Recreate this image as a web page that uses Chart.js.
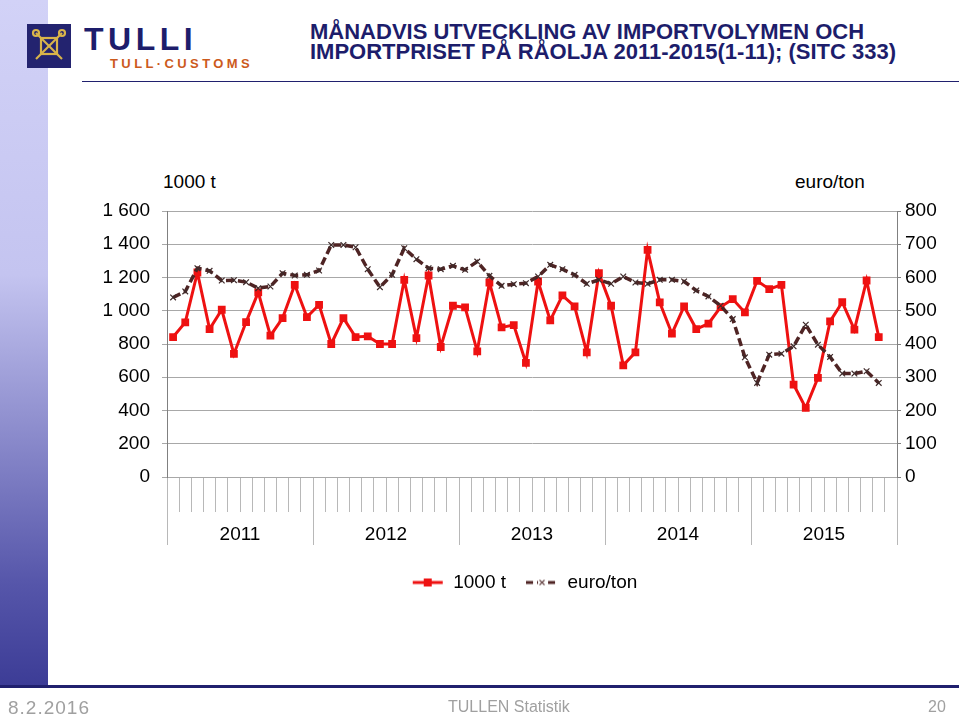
<!DOCTYPE html>
<html>
<head>
<meta charset="utf-8">
<script src="https://cdn.jsdelivr.net/npm/chart.js@4.4.0/dist/chart.umd.min.js"></script>
<style>
body{margin:0;width:959px;height:714px;position:relative;overflow:hidden;background:#fff;font-family:"Liberation Sans",Arial,sans-serif}
#band{position:absolute;left:0;top:0;width:48px;height:686px;background:linear-gradient(#d2d2f7,#c4c4f0 40%,#5656aa 85%,#3c3c96)}
#rule{position:absolute;left:0;top:685px;width:959px;height:3px;background:#20206e}
#hline{position:absolute;left:82px;top:81px;width:877px;height:1px;background:#20206e}
#logo{position:absolute;left:27px;top:24px;width:44px;height:44px;background:#23236f}
#tulli{position:absolute;left:84px;top:21px;font-weight:bold;font-size:32px;letter-spacing:4.5px;color:#1d1d6b}
#customs{position:absolute;left:110px;top:56px;font-weight:bold;font-size:13px;letter-spacing:3.4px;color:#cc5a1c}
#title{position:absolute;left:310px;top:22px;font-weight:bold;font-size:22px;line-height:20px;color:#1d1d6b}
.unit{position:absolute;top:171px;font-size:19px;color:#000}
.foot{position:absolute;top:698px;font-size:16px;color:#a0a0a0}
#wrap{position:absolute;left:0;top:0;width:959px;height:714px}
</style>
</head>
<body>
<div id="band"></div>
<div id="rule"></div>
<div id="hline"></div>
<div id="logo">
<svg width="44" height="44" viewBox="0 0 44 44">
<g stroke="#d9b44a" stroke-width="2.2" fill="none">
<line x1="9" y1="9" x2="35" y2="35"/><line x1="35" y1="9" x2="9" y2="35"/>
<rect x="14" y="14" width="16" height="16"/>
<circle cx="9" cy="9" r="3"/><circle cx="35" cy="9" r="3"/>
</g>
</svg>
</div>
<div id="tulli">TULLI</div>
<div id="customs">TULL·CUSTOMS</div>
<div id="title">MÅNADVIS UTVECKLING AV IMPORTVOLYMEN OCH<br>IMPORTPRISET PÅ RÅOLJA 2011-2015(1-11); (SITC 333)</div>
<div class="unit" style="left:163px">1000 t</div>
<div class="unit" style="left:795px">euro/ton</div>
<div id="wrap"><canvas id="myChart" width="959" height="714"></canvas></div>
<div class="foot" style="left:8px;font-size:19px;letter-spacing:1px;top:697px">8.2.2016</div>
<div class="foot" style="left:448px">TULLEN Statistik</div>
<div class="foot" style="left:928px">20</div>
<script>
let years = ['2011', '2012', '2013', '2014', '2015'];
let monthNames = ['jan', 'feb', 'mar', 'apr', 'maj', 'jun', 'jul', 'aug', 'sep', 'okt', 'nov', 'dec'];

// import volume, 1000 t (jan 2011 - nov 2015)
let volume = [842, 930, 1230, 890, 1006, 740, 932, 1110, 850, 956, 1156, 962,
  1036, 800, 956, 842, 846, 800, 800, 1186, 836, 1212, 782, 1030,
  1020, 756, 1170, 900, 914, 686, 1176, 942, 1092, 1026, 750, 1226,
  1030, 672, 750, 1366, 1050, 862, 1026, 890, 922, 1022, 1070, 990,
  1180, 1130, 1156, 556, 416, 596, 936, 1052, 886, 1182, 842];

// import price, euro/ton
let price = [540, 558, 628, 620, 591, 592, 586, 568, 573, 613, 606, 608,
  621, 698, 698, 691, 625, 571, 608, 688, 655, 628, 625, 635,
  623, 648, 605, 575, 580, 583, 603, 638, 625, 608, 581, 593,
  581, 603, 585, 581, 593, 593, 588, 561, 543, 515, 475, 360,
  283, 368, 371, 393, 458, 398, 361, 311, 311, 318, 283];

let leftTicks = [0, 1600, 200];
let rightTicks = [0, 800, 100];

let labels = [];
years.forEach(function (y) {
  monthNames.forEach(function (m) { labels.push(m + ' ' + y); });
});

let redColor = '#ee1111';
let priceColor = '#4f2424';
let font = {family: '"Liberation Sans", Arial, sans-serif', size: 19};

function legendIcon(kind) {
  let c = document.createElement('canvas');
  c.width = 32; c.height = 12;
  let g = c.getContext('2d');
  g.lineWidth = 3;
  if (kind == 'rect') {
    g.strokeStyle = redColor;
    g.beginPath(); g.moveTo(1, 6); g.lineTo(31, 6); g.stroke();
    g.fillStyle = redColor;
    g.fillRect(12, 2, 8, 8);
  } else {
    g.strokeStyle = priceColor;
    g.setLineDash([7, 4]);
    g.beginPath(); g.moveTo(0, 6); g.lineTo(32, 6); g.stroke();
    g.clearRect(12, 1, 8, 10);
    g.setLineDash([]);
    g.lineWidth = 1.2;
    g.strokeStyle = '#6a4a4a';
    g.beginPath(); g.moveTo(13.5, 3.5); g.lineTo(18.5, 8.5); g.moveTo(18.5, 3.5); g.lineTo(13.5, 8.5); g.stroke();
  }
  return c;
}
let icons = [legendIcon('rect'), legendIcon('cross')];

function spaced(v) {
  return String(v).replace(/\B(?=(\d{3})+(?!\d))/g, ' ');
}

let ctx = document.getElementById('myChart').getContext('2d');
let myChart = new Chart(ctx, {
  type: 'line',
  data: {
    labels: labels,
    datasets: [{
      label: '1000 t',
      data: volume,
      yAxisID: 'y',
      order: 1,
      borderColor: redColor,
      backgroundColor: redColor,
      borderWidth: 3,
      pointStyle: 'rect',
      pointRadius: 5.5,
      pointBorderWidth: 0,
      pointBackgroundColor: redColor
    }, {
      label: 'euro/ton',
      data: price,
      yAxisID: 'y1',
      order: 0,
      borderColor: priceColor,
      backgroundColor: priceColor,
      borderWidth: 3.5,
      borderDash: [8, 4],
      pointStyle: 'crossRot',
      pointRadius: 4,
      pointBorderWidth: 1.2,
      pointBorderColor: '#3e2a2a'
    }]
  },
  options: {
    responsive: false,
    animation: false,
    layout: {padding: {top: 211, bottom: 112, left: 90, right: 0}},
    scales: {
      x: {
        type: 'category',
        offset: true,
        grid: {offset: true, drawOnChartArea: false, tickLength: 35, color: '#b8b8b8'},
        border: {display: false},
        ticks: {display: false},
        afterFit: function (s) { s.height = 35; }
      },
      x2: {
        type: 'category',
        labels: years,
        position: 'bottom',
        offset: true,
        grid: {offset: true, drawOnChartArea: false, tickLength: 33, color: '#b8b8b8'},
        border: {display: false},
        ticks: {font: font, color: '#000', padding: -22, maxRotation: 0},
        afterFit: function (s) { s.height = 41; }
      },
      y: {
        position: 'left',
        min: leftTicks[0],
        max: leftTicks[1],
        ticks: {stepSize: leftTicks[2], padding: 12, font: font, color: '#000', callback: spaced},
        grid: {color: '#a8a8a8', tickLength: 5},
        border: {color: '#808080'},
        afterFit: function (s) { s.width = 77; }
      },
      y1: {
        position: 'right',
        min: rightTicks[0],
        max: rightTicks[1],
        ticks: {stepSize: rightTicks[2], padding: 4, font: font, color: '#000'},
        grid: {drawOnChartArea: false, tickLength: 4, color: '#808080'},
        border: {color: '#808080'},
        afterFit: function (s) { s.width = 62; }
      }
    },
    plugins: {
      tooltip: {enabled: false},
      legend: {
        position: 'bottom',
        labels: {
          font: font,
          color: '#000',
          padding: 20,
          usePointStyle: true,
          pointStyleWidth: 32,
          generateLabels: function (chart) {
            let items = Chart.defaults.plugins.legend.labels.generateLabels(chart);
            items.sort(function (a, b) { return a.datasetIndex - b.datasetIndex; });
            items.forEach(function (it) { it.pointStyle = icons[it.datasetIndex]; });
            return items;
          }
        }
      }
    }
  }
});
</script>
</body>
</html>
